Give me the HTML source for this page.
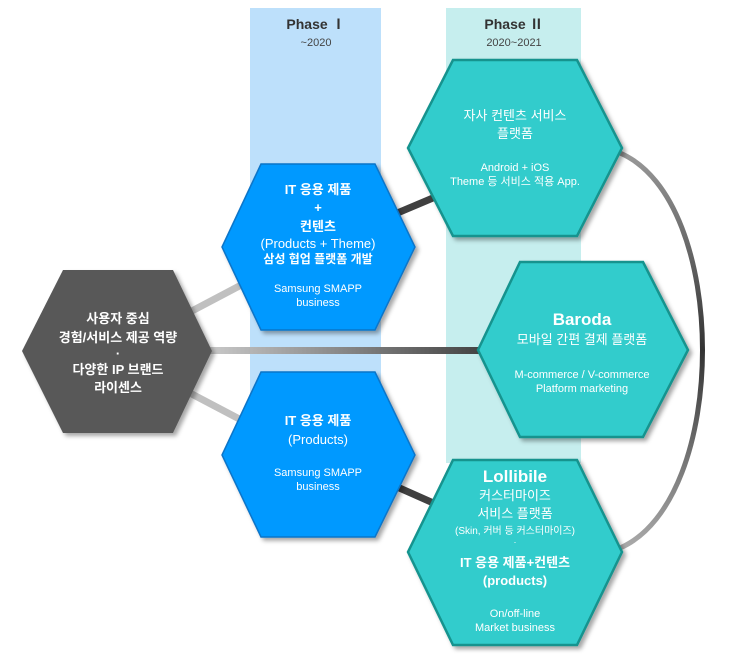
<!DOCTYPE html>
<html><head><meta charset="utf-8"><style>
html,body{margin:0;padding:0;background:#fff;}
svg{display:block;font-family:"Liberation Sans","Noto Sans CJK KR",sans-serif;}
</style></head><body>
<svg width="747" height="655" viewBox="0 0 747 655">
<defs>
<linearGradient id="hg" x1="0" x2="1" y1="0" y2="0"><stop offset="0" stop-color="#c8c8c8"/><stop offset="1" stop-color="#444"/></linearGradient>
<linearGradient id="ag" x1="0" x2="0" y1="0" y2="1"><stop offset="0" stop-color="#999"/><stop offset="0.5" stop-color="#333"/><stop offset="1" stop-color="#aaa"/></linearGradient>
<filter id="sh" x="-20%" y="-20%" width="140%" height="140%"><feDropShadow dx="3" dy="3" stdDeviation="2" flood-color="#000" flood-opacity="0.35"/></filter>
</defs>
<rect x="250" y="8" width="131" height="392" fill="#bde0fb"/>
<rect x="446" y="8" width="135" height="455" fill="#c6eeee"/>
<text x="316" y="29" text-anchor="middle" font-size="14" font-weight="bold" fill="#333">Phase Ⅰ</text>
<text x="316" y="46" text-anchor="middle" font-size="11" fill="#444">~2020</text>
<text x="514" y="29" text-anchor="middle" font-size="14" font-weight="bold" fill="#333">Phase Ⅱ</text>
<text x="514" y="46" text-anchor="middle" font-size="11" fill="#444">2020~2021</text>
<!-- connectors -->
<line x1="190" y1="312" x2="245" y2="283" stroke="#c0c0c0" stroke-width="7"/>
<line x1="188" y1="392" x2="245" y2="422" stroke="#c0c0c0" stroke-width="7"/>
<rect x="210" y="347" width="270" height="7" fill="url(#hg)"/>
<line x1="395" y1="214" x2="440" y2="195" stroke="#404040" stroke-width="7"/>
<line x1="395" y1="486" x2="440" y2="506" stroke="#404040" stroke-width="7"/>
<path d="M620 153 C 730 200, 730 500, 620 548" fill="none" stroke="url(#ag)" stroke-width="5"/>
<!-- hexes -->
<polygon points="63,270 173,270 212,351 173,433 63,433 22,351" fill="#595959" filter="url(#sh)"/>
<polygon points="261,164 375,164 415,247 375,330 261,330 222,247" fill="#0099ff" stroke="#0a74c8" stroke-width="1.5" filter="url(#sh)"/>
<polygon points="261,372 375,372 415,455 375,537 261,537 222,455" fill="#0099ff" stroke="#0a74c8" stroke-width="1.5" filter="url(#sh)"/>
<polygon points="453,60 577,60 622,148 577,236 453,236 408,148" fill="#33cccc" stroke="#12938e" stroke-width="2.5" filter="url(#sh)"/>
<polygon points="520,262 643,262 688,350 643,437 520,437 478,350" fill="#33cccc" stroke="#12938e" stroke-width="2.5" filter="url(#sh)"/>
<polygon points="453,460 577,460 622,552 577,645 453,645 408,552" fill="#33cccc" stroke="#12938e" stroke-width="2.5" filter="url(#sh)"/>
<!-- dark text -->
<g fill="#fff" text-anchor="middle" font-weight="bold" font-size="13">
<text x="118" y="323">사용자 중심</text>
<text x="118" y="342">경험/서비스 제공 역량</text>
<text x="118" y="358">·</text>
<text x="118" y="374">다양한 IP 브랜드</text>
<text x="118" y="392">라이센스</text>
</g>
<!-- blue1 -->
<g fill="#fff" text-anchor="middle">
<text x="318" y="194" font-size="13" font-weight="bold">IT 응용 제품</text>
<text x="318" y="212" font-size="13" font-weight="bold">+</text>
<text x="318" y="231" font-size="13" font-weight="bold">컨텐츠</text>
<text x="318" y="248" font-size="13">(Products + Theme)</text>
<text x="318" y="263" font-size="12" font-weight="bold">삼성 협업 플랫폼 개발</text>
<text x="318" y="292" font-size="11">Samsung SMAPP</text>
<text x="318" y="306" font-size="11">business</text>
<text x="318" y="425" font-size="13" font-weight="bold">IT 응용 제품</text>
<text x="318" y="444" font-size="13">(Products)</text>
<text x="318" y="476" font-size="11">Samsung SMAPP</text>
<text x="318" y="490" font-size="11">business</text>
<!-- teal1 -->
<text x="515" y="120" font-size="13">자사 컨텐츠 서비스</text>
<text x="515" y="138" font-size="13">플랫폼</text>
<text x="515" y="171" font-size="11">Android + iOS</text>
<text x="515" y="185" font-size="11">Theme 등 서비스 적용 App.</text>
<!-- teal2 -->
<text x="582" y="325" font-size="17" font-weight="bold">Baroda</text>
<text x="582" y="344" font-size="13">모바일 간편 결제 플랫폼</text>
<text x="582" y="378" font-size="11">M-commerce / V-commerce</text>
<text x="582" y="392" font-size="11">Platform marketing</text>
<!-- teal3 -->
<text x="515" y="482" font-size="17" font-weight="bold">Lollibile</text>
<text x="515" y="500" font-size="13">커스터마이즈</text>
<text x="515" y="518" font-size="13">서비스 플랫폼</text>
<text x="515" y="534" font-size="10">(Skin, 커버 등 커스터마이즈)</text>
<text x="515" y="545" font-size="9">·</text>
<text x="515" y="567" font-size="13" font-weight="bold">IT 응용 제품+컨텐츠</text>
<text x="515" y="585" font-size="13" font-weight="bold">(products)</text>
<text x="515" y="617" font-size="11">On/off-line</text>
<text x="515" y="631" font-size="11">Market business</text>
</g>
</svg>
</body></html>
